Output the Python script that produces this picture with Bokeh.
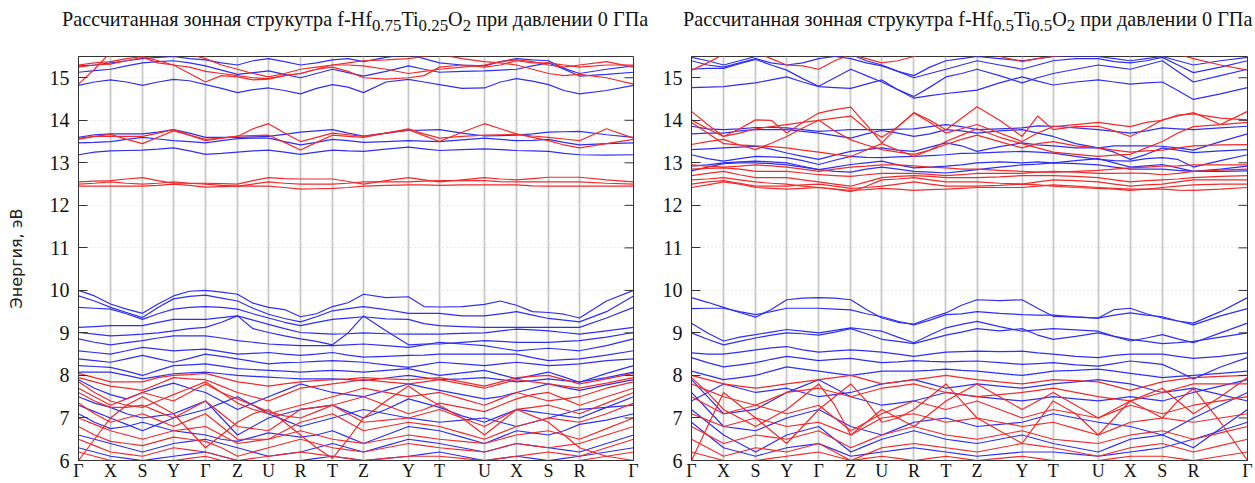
from bokeh.plotting import figure
from bokeh.models import Range1d, FixedTicker, Div, Spacer
from bokeh.layouts import row, column
from bokeh.embed import file_html
from bokeh.resources import INLINE

# k-path (high-symmetry points, cumulative distance) and labels
K_TICKS = [0, 32, 64, 95, 127, 159, 190, 222, 254, 285, 330, 361, 406, 438, 470, 501, 555]
K_LABELS = ["Γ", "X", "S", "Y", "Γ", "Z", "U", "R", "T", "Z", "Y", "T", "U", "X", "S", "R", "Γ"]
E_TICKS = [6, 7, 8, 9, 10, 11, 12, 13, 14, 15]

TITLE_LEFT = "Рассчитанная зонная струкутра f-Hf<sub>0.75</sub>Ti<sub>0.25</sub>O<sub>2</sub> при давлении 0 ГПа"
TITLE_RIGHT = "Рассчитанная зонная струкутра f-Hf<sub>0.5</sub>Ti<sub>0.5</sub>O<sub>2</sub> при давлении 0 ГПа"
Y_LABEL = "Энергия, эВ"

# ---------- f-Hf0.75Ti0.25O2 : energies (eV) at the 33 path samples ----------
HF075_BLUE = [
    [14.82,14.9,14.95,14.9,14.82,14.9,14.96,14.93,14.84,14.75,14.65,14.72,14.76,14.7,14.62,14.75,14.84,14.78,14.65,14.9,14.96,14.9,14.84,14.75,14.76,14.9,14.98,14.92,14.84,14.7,14.62,14.7,14.82],
    [15.13,15.17,15.2,15.28,15.35,15.38,15.4,15.35,15.28,15.18,15.08,15.12,15.16,15.08,15.0,15.1,15.2,15.12,15.04,15.15,15.28,15.2,15.13,15.15,15.16,15.18,15.2,15.28,15.35,15.2,15.04,15.08,15.13],
    [15.28,15.3,15.35,15.4,15.45,15.48,15.5,15.45,15.42,15.35,15.3,15.4,15.45,15.38,15.3,15.35,15.42,15.45,15.38,15.48,15.55,15.45,15.35,15.3,15.28,15.38,15.45,15.42,15.4,15.22,15.1,15.2,15.28],
    [13.19,13.25,13.28,13.29,13.3,13.32,13.35,13.28,13.2,13.22,13.25,13.28,13.3,13.25,13.2,13.25,13.3,13.28,13.27,13.32,13.37,13.33,13.29,13.31,13.33,13.31,13.29,13.28,13.27,13.22,13.19,13.18,13.19],
    [13.47,13.48,13.5,13.55,13.6,13.56,13.52,13.5,13.47,13.52,13.57,13.58,13.58,13.5,13.42,13.48,13.55,13.52,13.48,13.5,13.52,13.51,13.5,13.54,13.58,13.55,13.52,13.53,13.55,13.48,13.42,13.45,13.47],
    [13.6,13.66,13.68,13.68,13.68,13.72,13.78,13.7,13.6,13.6,13.6,13.61,13.62,13.67,13.72,13.75,13.78,13.7,13.63,13.7,13.76,13.77,13.78,13.7,13.63,13.64,13.65,13.68,13.72,13.73,13.74,13.66,13.6],
    [10.0,9.87,9.68,9.56,9.46,9.68,9.87,9.98,10.0,9.96,9.91,9.7,9.6,9.55,9.38,9.45,9.62,9.71,9.91,9.83,9.85,9.62,9.61,9.62,9.67,9.75,9.65,9.5,9.48,9.44,9.35,9.75,10.0],
    [9.87,9.75,9.6,9.48,9.36,9.6,9.8,9.86,9.89,9.82,9.75,9.58,9.44,9.34,9.26,9.38,9.52,9.57,9.62,9.55,9.46,9.46,9.46,9.4,9.4,9.45,9.5,9.42,9.34,9.3,9.26,9.5,9.87],
    [9.6,9.58,9.56,9.45,9.32,9.45,9.56,9.6,9.62,9.6,9.56,9.45,9.35,9.25,9.17,9.25,9.32,9.35,9.38,9.33,9.32,9.22,9.17,9.15,9.13,9.13,9.13,9.13,9.13,9.13,9.13,9.35,9.6],
    [9.13,9.15,9.17,9.17,9.17,9.25,9.32,9.32,9.32,9.36,9.4,9.3,9.2,9.1,9.01,8.99,8.97,8.98,9.0,8.98,8.97,8.97,8.97,8.99,9.0,9.05,9.09,9.07,9.05,9.01,8.97,9.05,9.13],
    [9.01,8.97,8.93,8.95,8.97,9.0,9.05,9.1,9.13,9.25,9.4,9.1,9.01,8.93,8.86,8.8,8.72,9.0,9.4,9.05,8.72,8.74,8.74,8.78,8.82,8.8,8.78,8.78,8.78,8.8,8.82,8.9,9.01],
    [8.86,8.78,8.72,8.77,8.82,8.88,8.93,8.93,8.93,8.88,8.82,8.78,8.74,8.72,8.7,8.7,8.7,8.72,8.74,8.7,8.66,8.72,8.78,8.74,8.7,8.64,8.58,8.61,8.64,8.61,8.58,8.7,8.86],
    [8.58,8.54,8.5,8.58,8.66,8.62,8.58,8.6,8.62,8.56,8.5,8.52,8.54,8.5,8.47,8.5,8.54,8.48,8.43,8.45,8.47,8.48,8.5,8.5,8.5,8.5,8.5,8.42,8.35,8.37,8.39,8.48,8.58],
    [8.39,8.35,8.31,8.39,8.47,8.39,8.31,8.4,8.5,8.45,8.39,8.33,8.27,8.3,8.31,8.33,8.35,8.33,8.31,8.25,8.19,8.25,8.31,8.27,8.23,8.27,8.31,8.27,8.23,8.25,8.27,8.35,8.39],
    [8.23,8.21,8.19,8.1,8.0,8.12,8.23,8.25,8.27,8.22,8.16,8.14,8.12,8.1,8.08,8.1,8.12,8.1,8.08,8.12,8.16,8.08,8.0,8.06,8.12,8.02,7.92,8.0,8.08,7.96,7.84,8.05,8.23],
    [8.08,8.08,8.08,8.0,7.92,7.98,8.04,8.06,8.08,8.04,8.0,7.98,7.96,7.94,7.92,7.92,7.92,7.9,7.88,7.94,8.0,7.95,7.9,7.92,7.95,7.9,7.85,7.88,7.92,7.88,7.85,7.95,8.08],
    [7.9,7.7,7.55,7.45,7.6,7.72,7.82,7.7,7.6,7.4,7.2,7.35,7.5,7.65,7.8,7.7,7.6,7.55,7.5,7.65,7.8,7.72,7.65,7.55,7.45,7.5,7.6,7.7,7.8,7.72,7.65,7.78,7.9],
    [7.5,7.35,7.25,7.1,7.0,7.05,7.1,7.25,7.4,7.0,6.6,6.8,7.0,7.1,7.2,7.25,7.3,7.15,7.0,7.2,7.45,7.35,7.25,7.05,6.9,7.05,7.2,7.15,7.1,7.05,7.0,7.25,7.5],
    [7.3,7.15,7.0,6.85,6.7,6.85,7.0,7.1,7.2,7.35,7.5,7.3,7.1,6.95,6.8,6.9,7.0,7.1,7.2,7.1,7.0,6.95,6.9,6.95,7.0,6.9,6.8,6.9,7.0,7.1,7.2,7.25,7.3],
    [7.1,6.9,6.75,6.8,6.9,6.8,6.7,6.65,6.6,6.5,6.45,6.55,6.65,6.6,6.55,6.6,6.7,6.55,6.4,6.6,6.8,6.75,6.7,6.55,6.4,6.55,6.7,6.65,6.6,6.7,6.85,6.95,7.1],
    [6.6,6.5,6.4,6.3,6.2,6.3,6.4,6.45,6.5,6.4,6.3,6.2,6.1,6.15,6.2,6.3,6.4,6.3,6.2,6.35,6.5,6.45,6.4,6.3,6.2,6.3,6.4,6.35,6.3,6.25,6.2,6.4,6.6],
    [6.3,6.2,6.1,6.05,6.0,6.05,6.1,6.15,6.2,6.1,6.0,5.95,5.9,5.95,6.0,6.05,6.1,6.05,6.0,6.05,6.1,6.15,6.2,6.1,6.0,6.05,6.1,6.05,6.0,6.05,6.1,6.2,6.3],
]

HF075_RED = [
    [14.85,15.2,15.6,15.6,15.6,15.6,15.6,15.55,15.45,15.3,15.2,15.1,15.02,15.1,15.2,15.25,15.3,15.35,15.4,15.42,15.45,15.5,15.55,15.45,15.38,15.35,15.3,15.2,15.1,15.05,15.08,15.0,14.85],
    [15.3,15.35,15.38,15.45,15.5,15.4,15.3,15.1,14.9,15.05,15.02,14.95,14.97,15.05,15.1,15.2,15.25,15.15,15.0,14.97,15.0,15.05,15.25,15.3,15.25,15.3,15.4,15.35,15.35,15.3,15.25,15.3,15.3],
    [15.25,15.3,15.32,15.4,15.48,15.35,15.3,15.25,15.15,15.1,15.05,15.0,14.98,15.05,15.1,15.2,15.3,15.3,15.28,15.2,15.1,15.15,15.2,15.25,15.3,15.38,15.42,15.38,15.3,15.25,15.3,15.38,15.25],
    [13.55,13.62,13.67,13.55,13.45,13.6,13.75,13.65,13.55,13.58,13.62,13.8,13.92,13.7,13.5,13.6,13.7,13.66,13.62,13.7,13.78,13.64,13.5,13.72,13.92,13.8,13.68,13.6,13.52,13.42,13.35,13.45,13.55],
    [13.58,13.62,13.62,13.62,13.62,13.7,13.78,13.65,13.52,13.58,13.63,13.64,13.65,13.48,13.3,13.48,13.65,13.62,13.6,13.7,13.8,13.68,13.58,13.62,13.65,13.66,13.67,13.63,13.6,13.56,13.52,13.8,13.58],
    [12.55,12.57,12.58,12.62,12.65,12.58,12.52,12.52,12.52,12.51,12.5,12.58,12.65,12.63,12.62,12.62,12.62,12.56,12.5,12.58,12.65,12.6,12.55,12.6,12.65,12.62,12.6,12.63,12.66,12.66,12.66,12.6,12.55],
    [12.5,12.52,12.55,12.52,12.5,12.52,12.55,12.52,12.5,12.47,12.45,12.5,12.55,12.52,12.5,12.5,12.5,12.52,12.55,12.55,12.55,12.57,12.58,12.58,12.58,12.56,12.55,12.55,12.55,12.55,12.55,12.52,12.5],
    [12.45,12.45,12.45,12.45,12.45,12.47,12.5,12.47,12.43,12.44,12.45,12.45,12.45,12.42,12.38,12.39,12.4,12.42,12.45,12.47,12.48,12.48,12.47,12.48,12.48,12.48,12.48,12.46,12.45,12.45,12.45,12.45,12.45],
    [8.05,7.95,7.85,7.85,7.85,7.95,8.0,8.02,8.05,7.95,7.85,7.8,7.75,7.8,7.85,7.88,7.9,7.92,7.95,7.92,7.9,7.92,7.95,7.85,7.75,7.85,7.95,7.98,8.0,7.9,7.8,7.92,8.05],
    [7.95,7.85,7.75,7.7,7.65,7.8,7.95,7.92,7.9,7.75,7.6,7.5,7.4,7.55,7.7,7.75,7.8,7.85,7.9,7.85,7.8,7.85,7.9,7.8,7.7,7.8,7.9,7.85,7.8,7.75,7.7,7.82,7.95],
    [7.85,7.6,7.4,7.3,7.25,7.4,7.55,7.7,7.85,7.6,7.35,7.2,7.1,7.2,7.3,7.4,7.5,7.6,7.7,7.6,7.5,7.55,7.6,7.45,7.3,7.45,7.6,7.5,7.4,7.45,7.5,7.7,7.85],
    [7.7,7.5,7.3,7.45,7.6,7.5,7.4,7.6,7.8,7.6,7.45,7.3,7.15,7.05,7.0,7.15,7.3,7.4,7.5,7.3,7.1,7.2,7.35,7.25,7.15,7.3,7.45,7.55,7.6,7.45,7.3,7.5,7.7],
    [7.6,7.4,7.25,7.25,7.3,7.15,7.0,7.2,7.4,7.1,6.8,6.75,6.7,6.95,7.2,7.25,7.3,7.1,6.9,6.95,7.0,7.1,7.2,7.0,6.8,7.0,7.2,7.25,7.3,7.2,7.1,7.35,7.6],
    [7.35,7.1,6.9,7.0,7.1,6.95,6.8,6.95,7.1,6.8,6.5,6.5,6.5,6.7,6.9,7.0,7.1,6.9,6.7,6.8,6.9,6.85,6.8,6.65,6.5,6.65,6.8,6.9,7.0,6.95,6.9,7.1,7.35],
    [7.0,6.85,6.7,6.6,6.5,6.6,6.7,6.75,6.8,6.6,6.4,6.45,6.5,6.6,6.7,6.6,6.5,6.45,6.4,6.5,6.6,6.55,6.5,6.45,6.4,6.5,6.6,6.65,6.7,6.6,6.5,6.75,7.0],
    [6.8,6.6,6.45,6.4,6.35,6.45,6.55,6.5,6.45,6.3,6.1,6.2,6.3,6.4,6.5,6.4,6.3,6.25,6.2,6.3,6.4,6.35,6.3,6.25,6.2,6.3,6.4,6.35,6.3,6.35,6.4,6.6,6.8],
    [6.5,6.35,6.2,6.15,6.1,6.2,6.3,6.25,6.2,6.1,6.0,6.05,6.1,6.15,6.2,6.15,6.1,6.05,6.0,6.05,6.1,6.1,6.1,6.05,6.0,6.05,6.1,6.15,6.2,6.15,6.1,6.3,6.5],
    [6.2,6.1,6.0,5.95,5.9,5.95,6.0,6.05,6.1,6.0,5.9,5.9,5.9,5.95,6.0,5.95,5.9,5.9,5.9,5.95,6.0,5.95,5.9,5.9,5.9,5.95,6.0,5.95,5.9,5.95,6.0,6.1,6.2],
    [6.0,6.5,7.0,7.3,7.5,7.3,7.1,6.7,6.3,6.6,6.9,7.1,7.2,6.9,6.6,6.3,6.05,6.5,7.0,7.4,7.75,7.5,7.3,7.0,6.6,6.9,7.2,7.05,6.9,6.6,6.3,6.1,6.0],
]

# ---------- f-Hf0.5Ti0.5O2 ----------
HF05_BLUE = [
    [14.77,14.78,14.79,14.84,14.88,14.95,15.02,14.9,14.79,14.77,14.75,14.85,14.95,14.72,14.52,14.58,14.63,14.67,14.71,14.88,15.02,14.92,14.83,14.9,14.95,14.9,14.85,14.88,14.9,14.7,14.49,14.62,14.77],
    [15.2,15.22,15.22,15.33,15.43,15.3,15.18,14.98,14.8,15.0,15.2,15.05,14.9,14.72,14.56,14.78,15.02,15.1,15.2,15.05,14.88,15.0,15.1,15.2,15.3,15.25,15.2,15.3,15.4,15.15,14.9,15.05,15.2],
    [15.4,15.3,15.25,15.35,15.45,15.35,15.3,15.35,15.45,15.5,15.55,15.4,15.3,15.15,15.0,15.1,15.2,15.3,15.4,15.3,15.2,15.3,15.4,15.45,15.45,15.38,15.35,15.4,15.48,15.3,15.12,15.25,15.4],
    [15.48,15.4,15.3,15.4,15.5,15.55,15.6,15.6,15.55,15.5,15.45,15.35,15.28,15.15,15.05,15.25,15.4,15.45,15.5,15.45,15.4,15.45,15.5,15.5,15.5,15.45,15.4,15.45,15.5,15.4,15.3,15.4,15.48],
    [13.86,13.8,13.78,13.8,13.83,13.83,13.82,13.78,13.74,13.76,13.78,13.78,13.78,13.79,13.8,13.85,13.9,13.85,13.78,13.8,13.82,13.87,13.86,13.82,13.78,13.74,13.7,13.75,13.82,13.8,13.78,13.82,13.86],
    [13.68,13.7,13.7,13.75,13.78,13.78,13.78,13.74,13.7,13.64,13.58,13.68,13.76,13.7,13.62,13.68,13.78,13.75,13.7,13.75,13.78,13.7,13.62,13.45,13.35,13.4,13.4,13.4,13.39,13.35,13.3,13.5,13.68],
    [13.31,13.33,13.35,13.37,13.39,13.32,13.23,13.15,13.08,13.18,13.27,13.31,13.35,13.3,13.27,13.37,13.47,13.4,13.27,13.38,13.47,13.42,13.4,13.35,13.35,13.25,13.08,13.2,13.35,13.3,13.24,13.28,13.31],
    [13.19,13.1,13.04,13.1,13.15,13.14,13.12,13.05,12.96,13.06,13.15,13.13,13.12,13.14,13.15,13.17,13.19,13.22,13.23,13.25,13.27,13.25,13.23,13.15,13.08,13.05,13.04,13.1,13.12,13.08,12.9,13.05,13.19],
    [12.92,12.95,13.0,13.02,13.04,13.02,13.0,12.92,12.84,12.9,12.96,13.0,13.04,12.95,12.88,12.9,12.92,12.95,13.0,13.02,13.0,13.02,13.0,13.05,13.1,13.0,12.9,12.93,12.96,12.88,12.8,12.85,12.92],
    [12.81,12.9,12.98,13.0,13.0,12.98,12.95,12.9,12.84,12.8,12.78,12.85,12.9,12.85,12.8,12.78,12.76,12.8,12.84,12.9,12.95,12.97,13.0,12.98,12.95,12.9,12.85,12.85,12.85,12.82,12.8,12.8,12.81],
    [9.83,9.72,9.6,9.48,9.37,9.55,9.78,9.82,9.83,9.82,9.78,9.55,9.35,9.25,9.21,9.35,9.47,9.65,9.78,9.76,9.78,9.58,9.39,9.37,9.35,9.55,9.58,9.45,9.35,9.28,9.23,9.5,9.83],
    [9.57,9.58,9.58,9.5,9.43,9.5,9.58,9.58,9.58,9.56,9.54,9.45,9.38,9.27,9.19,9.3,9.43,9.45,9.5,9.46,9.43,9.42,9.42,9.38,9.35,9.42,9.47,9.42,9.38,9.28,9.19,9.4,9.57],
    [9.23,9.0,8.81,8.9,8.96,9.02,9.08,9.04,9.0,9.06,9.12,9.08,9.04,8.9,8.77,8.95,9.12,9.2,9.27,9.15,9.04,9.07,9.1,9.07,9.04,8.92,8.81,8.88,8.96,8.86,8.77,9.0,9.23],
    [9.0,8.85,8.72,8.8,8.88,8.95,9.0,8.98,8.95,9.02,9.1,8.98,8.85,8.8,8.75,8.85,8.95,9.02,9.1,9.05,9.1,8.95,8.85,8.92,9.0,8.92,8.85,8.8,8.75,8.77,8.8,8.9,9.0],
    [8.53,8.5,8.5,8.55,8.6,8.65,8.68,8.6,8.55,8.58,8.6,8.58,8.55,8.5,8.45,8.5,8.55,8.56,8.57,8.56,8.57,8.53,8.5,8.45,8.42,8.47,8.5,8.5,8.5,8.45,8.4,8.45,8.53],
    [8.42,8.3,8.2,8.25,8.3,8.38,8.45,8.4,8.35,8.38,8.4,8.35,8.3,8.32,8.35,8.33,8.32,8.33,8.34,8.3,8.26,8.28,8.3,8.25,8.22,8.28,8.34,8.3,8.26,8.1,7.92,8.2,8.42],
    [8.1,8.0,7.9,7.95,8.0,8.1,8.2,8.15,8.1,8.05,8.0,8.05,8.1,8.1,8.1,8.12,8.15,8.12,8.1,8.05,8.0,8.05,8.1,8.12,8.15,8.1,8.05,8.0,7.95,7.98,8.0,8.05,8.1],
    [7.4,7.6,7.8,7.7,7.6,7.65,7.7,7.6,7.5,7.55,7.6,7.7,7.8,7.85,7.9,7.8,7.7,7.75,7.8,7.75,7.7,7.75,7.8,7.85,7.9,7.85,7.8,7.7,7.6,7.65,7.7,7.55,7.4],
    [7.9,7.5,7.1,7.15,7.2,7.4,7.6,7.75,7.9,7.7,7.5,7.4,7.3,7.35,7.4,7.5,7.6,7.55,7.5,7.45,7.4,7.45,7.5,7.45,7.4,7.45,7.5,7.45,7.4,7.5,7.6,7.75,7.9],
    [7.6,7.2,6.8,6.75,6.7,6.85,7.0,7.1,7.2,7.0,6.8,6.7,6.6,6.75,6.9,6.95,7.0,6.9,6.8,6.85,6.9,7.0,7.1,7.0,6.9,6.85,6.8,6.7,6.6,6.8,7.0,7.3,7.6],
    [7.2,6.9,6.6,6.4,6.2,6.4,6.6,6.7,6.8,6.5,6.2,6.35,6.5,6.6,6.7,6.6,6.5,6.45,6.4,6.5,6.6,6.5,6.4,6.3,6.2,6.35,6.5,6.55,6.6,6.45,6.3,6.75,7.2],
    [6.9,6.6,6.3,6.2,6.1,6.2,6.3,6.35,6.4,6.25,6.1,6.15,6.2,6.25,6.3,6.25,6.2,6.15,6.1,6.15,6.2,6.2,6.2,6.15,6.1,6.15,6.2,6.25,6.3,6.4,6.5,6.7,6.9],
]

HF05_RED = [
    [15.18,15.35,15.55,15.6,15.6,15.45,15.3,15.28,15.2,15.4,15.55,15.45,15.35,15.4,15.5,15.6,15.6,15.6,15.6,15.5,15.38,15.45,15.5,15.55,15.6,15.6,15.6,15.6,15.6,15.55,15.45,15.3,15.18],
    [14.21,13.9,13.62,13.8,14.01,14.0,13.7,13.95,14.17,14.25,14.31,13.9,13.47,13.85,14.18,14.0,13.78,14.05,14.32,14.0,13.62,14.1,13.78,13.85,13.86,13.75,13.62,13.8,14.01,14.1,14.18,13.9,14.21],
    [14.01,13.8,13.62,13.7,13.8,13.85,13.9,13.95,14.0,14.05,14.1,13.8,13.6,13.85,14.17,13.95,13.7,13.8,13.9,13.7,13.5,13.7,13.85,13.9,13.95,13.9,13.85,13.95,14.0,14.12,14.15,14.05,14.01],
    [13.43,13.5,13.55,13.42,13.31,13.46,13.62,13.82,14.0,13.75,13.54,13.42,13.31,13.25,13.2,13.3,13.43,13.55,13.65,13.5,13.35,13.45,13.5,13.4,13.35,13.3,13.25,13.28,13.3,13.35,13.4,13.42,13.43],
    [13.95,13.7,13.45,13.42,13.4,13.38,13.35,13.3,13.25,13.2,13.15,13.3,13.45,13.3,13.15,13.3,13.5,13.65,13.8,13.6,13.45,13.35,13.25,13.2,13.15,13.18,13.2,13.35,13.5,13.7,13.85,13.9,13.95],
    [12.95,12.92,12.9,12.92,12.95,12.93,12.9,12.85,12.8,12.85,12.9,12.92,12.95,12.95,12.93,12.9,12.88,12.85,12.85,12.82,12.8,12.78,12.78,12.8,12.82,12.85,12.88,12.9,12.92,12.93,12.95,12.95,12.95],
    [12.85,12.87,12.88,12.85,12.8,12.8,12.8,12.76,12.72,12.7,12.68,12.72,12.75,12.75,12.75,12.73,12.7,12.72,12.75,12.75,12.75,12.78,12.8,12.78,12.75,12.75,12.76,12.75,12.72,12.75,12.8,12.83,12.85],
    [12.7,12.75,12.8,12.72,12.65,12.65,12.65,12.6,12.55,12.5,12.45,12.55,12.65,12.68,12.7,12.68,12.65,12.65,12.65,12.67,12.7,12.7,12.7,12.68,12.65,12.6,12.55,12.58,12.6,12.62,12.65,12.68,12.7],
    [12.6,12.62,12.65,12.6,12.55,12.52,12.5,12.45,12.42,12.38,12.32,12.45,12.6,12.62,12.65,12.6,12.55,12.55,12.55,12.52,12.5,12.55,12.6,12.58,12.55,12.5,12.45,12.48,12.5,12.55,12.6,12.6,12.6],
    [12.5,12.55,12.58,12.52,12.45,12.45,12.45,12.48,12.5,12.45,12.4,12.42,12.45,12.5,12.55,12.5,12.45,12.45,12.45,12.47,12.5,12.48,12.45,12.42,12.4,12.38,12.35,12.38,12.42,12.45,12.48,12.5,12.5],
    [12.42,12.48,12.55,12.5,12.42,12.4,12.38,12.4,12.42,12.38,12.35,12.37,12.4,12.38,12.35,12.37,12.38,12.4,12.42,12.42,12.42,12.45,12.48,12.45,12.42,12.4,12.38,12.38,12.38,12.36,12.35,12.38,12.42],
    [8.0,7.9,7.8,7.75,7.7,7.75,7.8,7.85,7.9,7.95,8.0,7.9,7.8,7.85,7.9,7.95,8.0,7.95,7.9,7.85,7.8,7.85,7.9,7.88,7.85,7.75,7.65,7.75,7.85,7.9,7.95,7.98,8.0],
    [7.8,7.65,7.5,7.4,7.3,7.45,7.6,7.65,7.7,7.6,7.5,7.6,7.7,7.75,7.8,7.7,7.6,7.55,7.5,7.55,7.6,7.65,7.7,7.6,7.5,7.45,7.4,7.5,7.6,7.7,7.8,7.8,7.8],
    [7.95,7.6,7.2,7.0,6.8,7.0,7.2,7.5,7.8,7.3,6.6,6.9,7.2,7.0,6.8,7.1,7.4,7.6,7.8,7.5,7.2,7.4,7.6,7.3,7.0,7.2,7.4,7.55,7.7,7.4,7.1,7.5,7.95],
    [7.5,7.3,7.1,7.2,7.3,7.2,7.1,7.2,7.3,7.0,6.7,6.9,7.1,7.25,7.4,7.3,7.2,7.3,7.4,7.2,7.0,7.1,7.2,7.1,7.0,7.15,7.3,7.2,7.1,7.2,7.3,7.4,7.5],
    [7.1,6.95,6.8,6.9,7.0,6.9,6.8,6.85,6.9,6.75,6.6,6.8,7.0,7.05,7.1,7.0,6.9,6.95,7.0,6.9,6.8,6.85,6.9,6.75,6.6,6.75,6.9,6.95,7.0,6.95,6.9,7.0,7.1],
    [6.8,6.6,6.4,6.5,6.6,6.55,6.5,6.6,6.7,6.5,6.3,6.45,6.6,6.7,6.8,6.7,6.6,6.55,6.5,6.6,6.7,6.6,6.5,6.45,6.4,6.5,6.6,6.65,6.7,6.6,6.5,6.65,6.8],
    [6.5,6.3,6.1,6.2,6.3,6.25,6.2,6.3,6.4,6.2,6.0,6.15,6.3,6.35,6.4,6.35,6.3,6.25,6.2,6.3,6.4,6.35,6.3,6.2,6.1,6.2,6.3,6.35,6.4,6.3,6.2,6.35,6.5],
    [6.2,6.1,6.0,6.0,6.0,6.05,6.1,6.15,6.2,6.1,6.0,6.05,6.1,6.05,6.0,6.05,6.1,6.05,6.0,6.05,6.1,6.05,6.0,6.0,6.0,6.05,6.1,6.1,6.1,6.05,6.0,6.1,6.2],
    [6.0,6.8,7.6,7.3,7.0,6.7,6.4,6.8,7.2,7.5,7.8,7.4,6.9,7.0,7.2,7.5,7.8,7.4,7.0,6.7,6.4,6.9,7.4,7.1,6.6,7.0,7.4,7.2,7.0,7.4,7.7,6.9,6.0],
]

BLUE = "#2f2ff2"
RED = "#f22a2a"
SERIF = "Liberation Serif"
TICK_LEN = 9  # px; x axis spans one unit per pixel


def k_path():
    ks = []
    for a, b in zip(K_TICKS[:-1], K_TICKS[1:]):
        ks += [a, (a + b) / 2]
    ks.append(K_TICKS[-1])
    return ks


def panel(blue, red, width, border_left, border_right, ylabel):
    p = figure(width=width, height=447, output_backend="svg", toolbar_location=None,
               x_range=Range1d(K_TICKS[0], K_TICKS[-1]), y_range=Range1d(6, 15.5),
               min_border_left=border_left, min_border_right=border_right,
               min_border_top=20, min_border_bottom=20, margin=0)
    p.background_fill_color = "white"
    p.border_fill_color = "white"
    p.outline_line_color = "#333333"
    p.outline_line_width = 1

    p.xgrid.ticker = FixedTicker(ticks=K_TICKS)
    p.xgrid.grid_line_color = "#c8c8c8"
    p.xgrid.grid_line_width = 1.8
    p.ygrid.grid_line_color = "#d4d4d4"
    p.ygrid.grid_line_dash = "1 3"
    p.ygrid.grid_line_width = 1

    ks = k_path()
    p.multi_line(xs=[ks] * len(blue), ys=blue, line_color=BLUE, line_width=1.2)
    p.multi_line(xs=[ks] * len(red), ys=red, line_color=RED, line_width=1.2)

    # mirrored inward ticks on the right frame edge
    xr = K_TICKS[-1]
    p.segment(x0=[xr - TICK_LEN] * len(E_TICKS), x1=[xr] * len(E_TICKS),
              y0=E_TICKS, y1=E_TICKS, line_color="#333333", line_width=1)

    xa = p.xaxis[0]
    xa.ticker = FixedTicker(ticks=K_TICKS)
    xa.major_label_overrides = {k: lab for k, lab in zip(K_TICKS, K_LABELS)}
    xa.major_tick_in = 0
    xa.major_tick_out = 0
    xa.minor_tick_line_color = None
    xa.axis_line_color = "#333333"
    xa.major_label_text_font = SERIF
    xa.major_label_text_font_size = "18px"
    xa.major_label_text_color = "#111111"
    xa.major_label_standoff = 0

    ya = p.yaxis[0]
    ya.ticker = FixedTicker(ticks=E_TICKS)
    ya.major_tick_in = TICK_LEN
    ya.major_tick_out = 0
    ya.major_tick_line_color = "#333333"
    ya.minor_tick_line_color = None
    ya.axis_line_color = "#333333"
    ya.major_label_text_font = SERIF
    ya.major_label_text_font_size = "20px"
    ya.major_label_text_color = "#111111"
    ya.major_label_standoff = 9
    if ylabel:
        ya.axis_label = ylabel
        ya.axis_label_text_font = "DejaVu Sans"
        ya.axis_label_text_font_style = "normal"
        ya.axis_label_text_font_size = "16px"
        ya.axis_label_text_color = "#222222"
        ya.axis_label_standoff = 21
    return p


def title_div(html, width):
    return Div(text=html, width=width, height=31, margin=(5, 0, 0, 0),
               styles={"font-family": SERIF, "font-size": "20.2px", "color": "#111111",
                       "text-align": "left", "white-space": "nowrap"})


p1 = panel(HF075_BLUE, HF075_RED, 643, 78, 10, Y_LABEL)
p2 = panel(HF05_BLUE, HF05_RED, 612, 48, 8, None)

titles = row(Spacer(width=62, height=36, margin=0), title_div(TITLE_LEFT, 600),
             Spacer(width=21, height=36, margin=0), title_div(TITLE_RIGHT, 572))
layout = column(titles, row(p1, p2))

open("out.html", "w").write(file_html(layout, INLINE))
